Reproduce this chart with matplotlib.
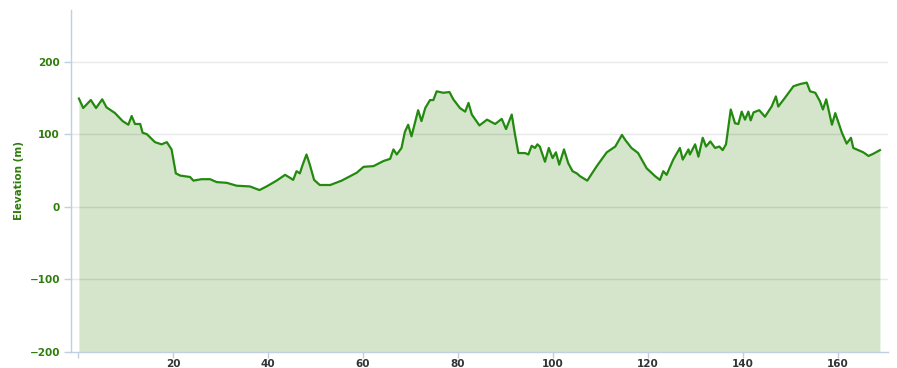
import matplotlib.pyplot as plt

# distance along route (km) and elevation (m)
distance = [
    0.2, 1.1, 2.7, 3.8, 5.1, 6.0, 7.8, 9.4, 10.6, 11.3, 12.0, 13.1, 13.6, 14.5,
    16.2, 17.6, 18.7,
    19.7, 20.6, 21.5, 23.6, 24.3, 26.0, 27.8, 29.2, 31.3, 33.4, 36.2, 38.2,
    39.7, 41.8, 43.6, 44.6, 45.3, 46.0, 46.7, 47.3, 48.1, 48.8, 49.7, 50.9,
    53.1, 55.5, 58.7,
    60.1, 62.2, 64.3, 65.7, 66.4, 67.1, 68.1, 68.8, 69.5, 70.2, 71.6, 72.3,
    73.1, 74.1, 74.8, 75.5, 76.9, 78.2, 79.0, 80.4, 81.5, 82.2, 82.9, 84.5,
    86.1, 87.8, 89.2, 90.1, 91.3,
    92.0, 92.7, 94.1, 94.8, 95.5, 96.2, 96.7, 97.2, 98.3, 99.1, 99.9, 100.6,
    101.3, 102.3, 103.2, 104.1, 105.0, 105.7, 107.2, 109.2, 111.3, 113.1,
    114.5, 115.2, 116.5, 117.9, 119.7, 121.5, 122.5, 123.2, 123.9, 125.3,
    126.7, 127.3, 128.5,
    128.8, 129.9, 130.6, 131.5, 132.2, 133.1, 134.1, 135.0, 135.7, 136.4,
    137.4, 138.3, 139.0, 139.7, 140.4, 141.1, 141.6, 142.2, 143.4, 144.6,
    146.0, 146.9, 147.4, 148.8, 150.6, 152.0, 153.4, 154.1, 155.2, 156.2,
    156.8, 157.5, 158.7, 159.4, 160.8, 161.8, 162.7, 163.2, 165.3, 166.4,
    167.4, 168.8,
]
elevation = [
    149, 136, 147, 136, 148, 137, 129, 118, 113, 125, 114, 114, 102, 100,
    89, 86, 89,
    79, 46, 43, 41, 36, 38, 38, 34, 33, 29, 28, 23,
    28, 36, 44, 40, 37, 49, 46, 58, 72, 58, 37, 30,
    30, 36, 47,
    55, 56, 63, 66, 79, 72, 81, 103, 113, 97, 133, 118,
    136, 147, 147, 159, 157, 158, 148, 136, 131, 143, 127, 112,
    120, 114, 121, 107, 127,
    99, 74, 74, 72, 84, 81, 86, 83, 62, 81, 67, 75,
    58, 79, 60, 49, 46, 42, 36, 56, 75, 83,
    99, 92, 81, 74, 53, 42, 37, 49, 44, 65,
    81, 65, 79,
    72, 86, 69, 95, 83, 90, 81, 83, 78, 86,
    134, 115, 114, 131, 120, 131, 119, 130, 133, 124,
    138, 152, 138, 150, 166, 169, 171, 159, 157, 145,
    134, 148, 113, 129, 102, 87, 95, 81, 75, 70,
    73, 78,
]

x_ticks = [0, 20, 40, 60, 80, 100, 120, 140, 160]
x_tick_labels = ["", "20", "40", "60", "80", "100", "120", "140", "160"]
y_ticks = [-200, -100, 0, 100, 200]
y_tick_labels = ["\u2212200", "\u2212100", "0", "100", "200"]

line_color = "#238a0f"
fill_color = "#d4e5cb"
label_green = "#2f7d0c"
axis_color = "#c0d0e0"

fig = plt.figure(figsize=(8.97, 3.68), dpi=100)
ax = fig.add_axes([71 / 897, 1 - 352 / 368, (888 - 71) / 897, (352 - 10) / 368])

ax.set_xlim(-1.47, 170.5)
ax.set_ylim(-200, 271)

ax.fill_between(distance, elevation, -200, color=fill_color, lw=0, zorder=1)
for y in y_ticks[1:]:
    ax.axhline(y, color="black", alpha=0.09, lw=1, zorder=2)
ax.plot(distance, elevation, color=line_color, lw=1.6, zorder=3,
        solid_joinstyle="round")

ax.set_xticks(x_ticks)
ax.set_xticklabels(x_tick_labels)
ax.set_yticks(y_ticks)
ax.set_yticklabels(y_tick_labels)

for lbl in ax.get_xticklabels():
    lbl.set_fontweight("bold")
    lbl.set_color("#333333")
    lbl.set_fontsize(7.5)
for lbl in ax.get_yticklabels():
    lbl.set_fontweight("bold")
    lbl.set_color(label_green)
    lbl.set_fontsize(7.5)

ax.tick_params(axis="x", length=4, width=1, color=axis_color, pad=1)
ax.tick_params(axis="y", length=5, width=1, color=axis_color, pad=3)

for side in ["top", "right"]:
    ax.spines[side].set_visible(False)
for side in ["left", "bottom"]:
    ax.spines[side].set_color(axis_color)
    ax.spines[side].set_linewidth(1)

ax.set_ylabel("Elevation (m)", fontsize=7.5, fontweight="bold",
              color=label_green)
ax.yaxis.set_label_coords((24 - 71) / 817, (352 - 180) / 342)

fig.savefig("out.png", dpi=100)
